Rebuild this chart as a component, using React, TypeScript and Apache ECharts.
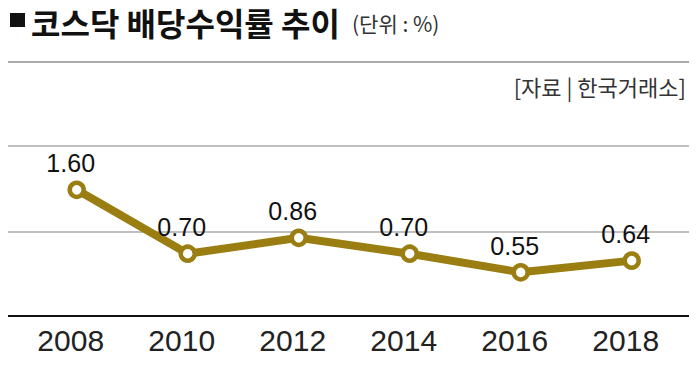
import React, { useEffect, useRef } from "react";
import * as echarts from "echarts";

const years = ["2008", "2010", "2012", "2014", "2016", "2018"];
const yieldValues = [1.6, 0.7, 0.86, 0.7, 0.55, 0.64];
const titleText = "코스닥 배당수익률 추이";
const unitText = "(단위 : %)";
const sourceText = "[자료 | 한국거래소]";

const LINE = "#9a7e12";

export default function App() {
  const ref = useRef<HTMLDivElement>(null);
  useEffect(() => {
    document.body.style.margin = "0";
    const chart = echarts.init(ref.current!, null, { renderer: "svg" });
    chart.setOption({
      animation: false,
      backgroundColor: "#ffffff",
      grid: { left: 76.7, right: 66.3, top: 172.6, bottom: 85.3 },
      xAxis: {
        type: "category",
        data: years,
        boundaryGap: false,
        offset: 36.3,
        axisLine: { show: false },
        axisTick: { show: false },
        axisLabel: {
          margin: 9,
          fontSize: 30,
          fontFamily: "'Liberation Sans', Arial, sans-serif",
          color: "#222",
          padding: [0, 12, 0, 0],
        },
      },
      yAxis: {
        type: "log",
        logBase: 10,
        min: 0.5,
        max: 2,
        show: false,
        splitLine: { show: false },
      },
      graphic: [
        { type: "rect", shape: { x: 10, y: 13, width: 15, height: 14 }, style: { fill: "#111" } },
        {
          type: "text",
          x: 31,
          y: 22,
          style: {
            text: titleText,
            fontSize: 32,
            fontWeight: "bold",
            fontFamily: "'Noto Sans CJK KR', sans-serif",
            fill: "#111",
            verticalAlign: "middle",
          },
        },
        {
          type: "text",
          x: 352,
          y: 23,
          style: {
            text: unitText,
            fontSize: 21,
            fontFamily: "'Noto Sans CJK KR', sans-serif",
            fill: "#333",
            verticalAlign: "middle",
          },
        },
        { type: "line", shape: { x1: 8, y1: 62, x2: 689, y2: 62 }, style: { stroke: "#8c8c8c", lineWidth: 1.5 } },
        {
          type: "text",
          x: 686,
          y: 86,
          style: {
            text: sourceText,
            fontSize: 22,
            fontFamily: "'Noto Sans CJK KR', sans-serif",
            fill: "#333",
            align: "right",
            verticalAlign: "middle",
          },
        },
        { type: "line", z: -1, shape: { x1: 8, y1: 146, x2: 689, y2: 146 }, style: { stroke: "#aaaaaa", lineWidth: 1.5 } },
        { type: "line", z: -1, shape: { x1: 8, y1: 232, x2: 689, y2: 232 }, style: { stroke: "#aaaaaa", lineWidth: 1.5 } },
        { type: "line", shape: { x1: 8, y1: 316, x2: 689, y2: 316 }, style: { stroke: "#111", lineWidth: 2 } },
      ],
      series: [
        {
          type: "line",
          data: yieldValues,
          z: 5,
          symbol: "circle",
          symbolSize: 14,
          lineStyle: { color: LINE, width: 8 },
          itemStyle: { color: "#ffffff", borderColor: LINE, borderWidth: 4.5 },
          label: {
            show: true,
            position: "top",
            distance: 5,
            offset: [-6, 0],
            fontSize: 25,
            fontFamily: "'Liberation Sans', Arial, sans-serif",
            color: "#111",
            formatter: (p: any) => Number(p.value).toFixed(2),
          },
        },
      ],
    });
    return () => chart.dispose();
  }, []);
  return <div ref={ref} style={{ width: 698, height: 365 }} />;
}
